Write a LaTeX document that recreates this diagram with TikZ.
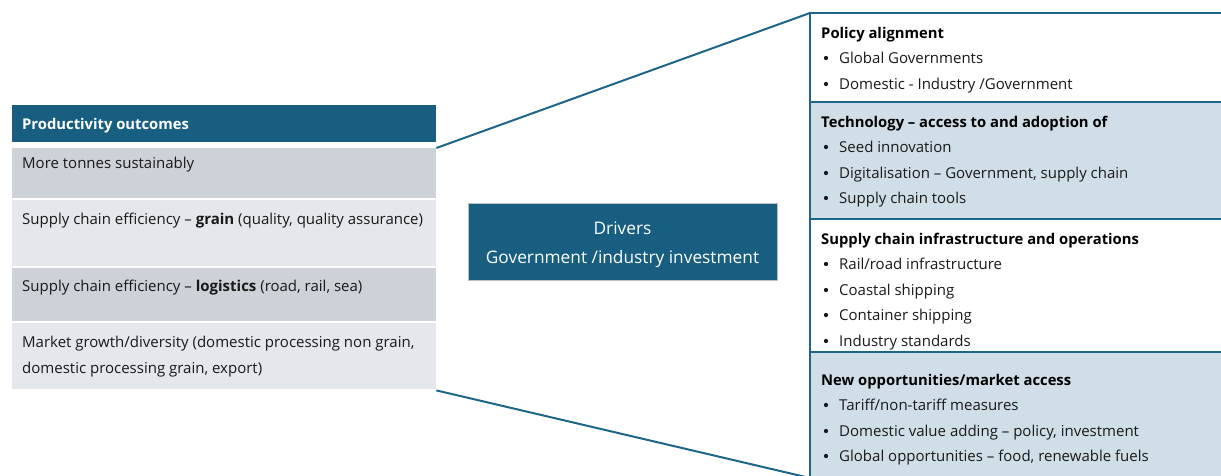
\documentclass[tikz,border=0pt]{standalone}
\usepackage{fontspec}
\setmainfont{Open Sans}
\definecolor{hdr}{HTML}{175E80}
\definecolor{rowdark}{HTML}{CDD2D9}
\definecolor{rowlight}{HTML}{E4E8EC}
\definecolor{panelblue}{HTML}{D0DFE7}
\definecolor{linec}{HTML}{1E6688}
\tikzset{
  rowbox/.style={draw=none, inner sep=0pt, anchor=north west, minimum width=424pt},
  rowtext/.style={anchor=base west, inner sep=0pt, font=\fontsize{15}{25}\selectfont, text=black!90},
  ptitle/.style={anchor=base west, inner sep=0pt, font=\fontsize{14.8}{25}\selectfont\bfseries},
  pitem/.style={anchor=base west, inner sep=0pt, font=\fontsize{15}{25}\selectfont, text=black!90},
  pdot/.style={circle, fill=black!90, inner sep=0pt, minimum size=4.3pt},
  conn/.style={draw=linec, line width=2pt},
  divline/.style={draw=linec, line width=2pt},
}
\newcommand{\pbullet}[3]{%
  \node[pdot] (#1d) at (826,#2-5) {};
  \node[pitem] (#1) at (839,#2) {#3};}
\begin{document}
\begin{tikzpicture}[x=1pt,y=-1pt]
\useasboundingbox (0,0) rectangle (1221,475);
% left table
\node[rowbox, fill=hdr, minimum height=37pt] (hdr) at (12,105) {};
\node[anchor=base west, inner sep=0pt, font=\fontsize{14.8}{17}\selectfont\bfseries, text=white] (hdrt) at (22,129) {Productivity outcomes};
\node[rowbox, fill=rowdark, minimum height=50pt] (r1) at (12,148) {};
\node[rowbox, fill=rowlight, minimum height=66pt] (r2) at (12,200) {};
\node[rowbox, fill=rowdark, minimum height=53pt] (r3) at (12,268) {};
\node[rowbox, fill=rowlight, minimum height=66pt] (r4) at (12,323) {};
\node[rowtext] (t1) at (22,168) {More tonnes sustainably};
\node[rowtext] (t2) at (22,224) {Supply chain efficiency -- \textbf{grain} (quality, quality assurance)};
\node[rowtext] (t3) at (22,291) {Supply chain efficiency -- \textbf{logistics} (road, rail, sea)};
\node[rowtext] (t4a) at (22,347) {Market growth/diversity (domestic processing non grain,};
\node[rowtext] (t4b) at (22,373) {domestic processing grain, export)};
% drivers
\node[draw=black!25, line width=0.6pt, fill=hdr, inner sep=0pt, anchor=north west, minimum width=309pt, minimum height=77pt] (drv) at (468,203) {};
\node[text=white, inner sep=0pt, font=\fontsize{17.3}{20}\selectfont] (drv1) at (622.5,228) {Drivers};
\node[text=white, inner sep=0pt, font=\fontsize{17.3}{20}\selectfont] (drv2) at (622.5,259) {Government /industry investment};
% right panel
\node[fill=white, inner sep=0pt, anchor=north west, minimum width=412pt, minimum height=89pt] (p1) at (810,13) {};
\node[fill=panelblue, inner sep=0pt, anchor=north west, minimum width=412pt, minimum height=117pt] (p2) at (810,102) {};
\node[fill=white, inner sep=0pt, anchor=north west, minimum width=412pt, minimum height=133pt] (p3) at (810,219) {};
\node[fill=panelblue, inner sep=0pt, anchor=north west, minimum width=412pt, minimum height=126pt] (p4) at (810,352) {};
\draw[divline] (p2.north west) -- (p2.north east);
\draw[divline] (p3.north west) -- (p3.north east);
\draw[divline] (p4.north west) -- (p4.north east);
\draw[draw=linec, line width=1.2pt] (p4.south west) -- (p1.north west) -- (p1.north east);
\node[ptitle] (h1) at (821,38) {Policy alignment};
\pbullet{b11}{63}{Global Governments}
\pbullet{b12}{89}{Domestic - Industry /Government}
\node[ptitle] (h2) at (821,127) {Technology -- access to and adoption of};
\pbullet{b21}{152}{Seed innovation}
\pbullet{b22}{178}{Digitalisation -- Government, supply chain}
\pbullet{b23}{203}{Supply chain tools}
\node[ptitle] (h3) at (821,244) {Supply chain infrastructure and operations};
\pbullet{b31}{269}{Rail/road infrastructure}
\pbullet{b32}{295}{Coastal shipping}
\pbullet{b33}{320}{Container shipping}
\pbullet{b34}{346}{Industry standards}
\node[ptitle] (h4) at (821,385) {New opportunities/market access};
\pbullet{b41}{410}{Tariff/non-tariff measures}
\pbullet{b42}{436}{Domestic value adding -- policy, investment}
\pbullet{b43}{461}{Global opportunities -- food, renewable fuels}
% connectors
\draw[conn] (r1.north east) -- (p1.north west);
\coordinate (bend) at (810,478);
\draw[conn] ([yshift=-1pt]r4.south east) -- (bend);
\end{tikzpicture}
\end{document}
